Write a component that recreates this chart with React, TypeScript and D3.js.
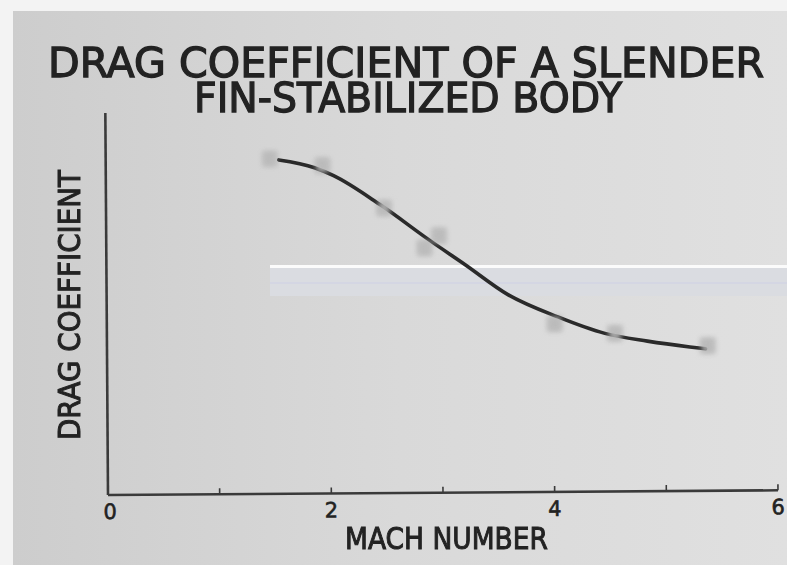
import * as React from 'react';
import * as d3 from 'd3';

// measured points (Mach number, drag coefficient in arbitrary units)
const pointMach: number[] = [1.47, 1.94, 2.49, 2.85, 2.98, 4.01, 4.55, 5.38];
const pointCd: number[] = [0.877, 0.859, 0.746, 0.641, 0.673, 0.44, 0.414, 0.38];

// faired curve
const curveMach: number[] = [1.55, 1.87, 2.04, 2.46, 2.9, 3.21, 3.59, 4.04, 4.46, 4.84, 5.22, 5.36];
const curveCd: number[] = [0.874, 0.853, 0.832, 0.754, 0.66, 0.597, 0.518, 0.458, 0.414, 0.393, 0.377, 0.372];

const xTicks: number[] = [0, 1, 2, 3, 4, 5, 6];
const xTickLabels: string[] = ['0', '', '2', '', '4', '', '6'];

const titleLines: string[] = ['DRAG COEFFICIENT OF A SLENDER', 'FIN-STABILIZED BODY'];
const xLabel = 'MACH NUMBER';
const yLabel = 'DRAG COEFFICIENT';

const W = 787;
const H = 565;
const ink = '#222';
const font = "'DejaVu Sans', sans-serif";

export default function App() {
	const x = d3.scaleLinear().domain([0, 6]).range([108, 778]);
	const y = d3.scaleLinear().domain([0, 1]).range([495, 113]);

	const line = d3
		.line<number>()
		.x((d, i) => x(curveMach[i]))
		.y((d) => y(d))
		.curve(d3.curveMonotoneX);

	const pts = pointMach.map((m, i) => ({ m, c: pointCd[i] }));

	return (
		<svg width={W} height={H} style={{ position: 'fixed', left: 0, top: 0 }}>
			<defs>
				<linearGradient id="bg" x1="0" y1="0" x2="1" y2="0">
					<stop offset="0" stopColor="#cdcdcd" />
					<stop offset="0.5" stopColor="#d9d9d9" />
					<stop offset="1" stopColor="#e0e0e0" />
				</linearGradient>
				<filter id="blur" x="-1" y="-1" width="3" height="3">
					<feGaussianBlur stdDeviation="2.4" />
				</filter>
				<filter id="soft" x="-0.1" y="-0.1" width="1.2" height="1.2">
					<feGaussianBlur stdDeviation="0.5" />
				</filter>
			</defs>

			{/* photo print with white border */}
			<rect x={0} y={0} width={W} height={H} fill="#f3f3f3" />
			<rect x={13} y={11} width={W - 13} height={H - 11} fill="url(#bg)" />

			{/* scan artefact band */}
			<rect x={270} y={268} width={W - 270} height={28} fill="#dadce1" />
			<rect x={270} y={282} width={W - 270} height={2} fill="#d2d5e4" opacity={0.8} />
			<rect x={270} y={265} width={W - 270} height={3} fill="#fbfbfb" />

			{/* title */}
			<g fill={ink} stroke={ink} strokeWidth={1.3} fontFamily={font} filter="url(#soft)">
				<text x={48} y={77} fontSize={41} textLength={716} lengthAdjust="spacingAndGlyphs">
					{titleLines[0]}
				</text>
				<text x={194} y={112} fontSize={41} textLength={428} lengthAdjust="spacingAndGlyphs">
					{titleLines[1]}
				</text>
			</g>

			<g transform="rotate(-0.4, 108, 495)">
				{/* data markers */}
				<g>
					{pts.map((p, i) => (
						<rect
							key={'bgm' + i}
							x={x(p.m) - 8}
							y={y(p.c) - 8}
							width={16}
							height={16}
							fill="#c4c4c4"
							filter="url(#blur)"
						/>
					))}
				</g>

				{/* faired curve */}
				<path d={line(curveCd) || ''} fill="none" stroke="#2a2a2a" strokeWidth={3.6} strokeLinecap="round" />

				{/* gaps where the curve passes the markers */}
				{pts.map((p, i) => (
					<rect
						key={'gap' + i}
						x={x(p.m) - 6}
						y={y(p.c) - 7}
						width={12}
						height={14}
						fill="#bababa"
						opacity={0.85}
						filter="url(#blur)"
					/>
				))}

				{/* axes */}
				<line x1={x(0)} x2={x(0)} y1={y(1)} y2={y(0)} stroke="#3a3a3a" strokeWidth={2.6} />
				<line x1={x(0)} x2={x(6)} y1={y(0)} y2={y(0)} stroke="#3a3a3a" strokeWidth={2.6} />
				{xTicks.slice(1).map((t) => (
					<line key={'t' + t} x1={x(t)} x2={x(t)} y1={y(0)} y2={y(0) - 6} stroke="#3a3a3a" strokeWidth={1.6} />
				))}

				{/* tick labels */}
				<g fill={ink} fontFamily={font} fontSize={21} textAnchor="middle" stroke={ink} strokeWidth={0.6}>
					{xTicks.map((t, i) =>
						xTickLabels[i] ? (
							<text key={'l' + t} x={x(t) + (t === 0 ? 2 : 0)} y={519}>
								{xTickLabels[i]}
							</text>
						) : null
					)}
				</g>
			</g>

			{/* axis titles */}
			<g fill={ink} stroke={ink} strokeWidth={1} fontFamily={font} filter="url(#soft)">
				<text x={345} y={549} fontSize={30} textLength={203} lengthAdjust="spacingAndGlyphs">
					{xLabel}
				</text>
				<text
					transform="translate(80, 440) rotate(-90)"
					x={0}
					y={0}
					fontSize={30}
					textLength={270}
					lengthAdjust="spacingAndGlyphs"
				>
					{yLabel}
				</text>
			</g>
		</svg>
	);
}
